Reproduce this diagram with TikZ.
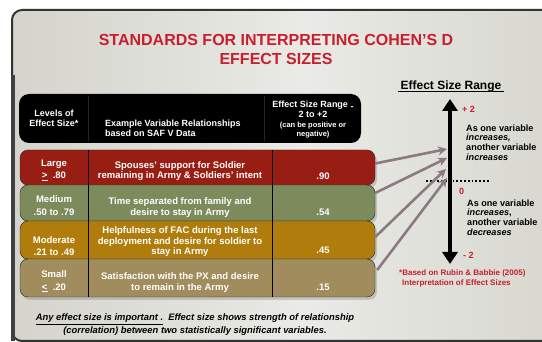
\documentclass[tikz,border=0pt]{standalone}
\usepackage{fontspec}
\setmainfont{Liberation Sans}
\usepackage{tikz}
\usetikzlibrary{arrows.meta,positioning,shadows,calc}
\definecolor{titlered}{RGB}{200,30,45}
\definecolor{largered}{RGB}{152,30,20}
\definecolor{mediumgreen}{RGB}{125,138,92}
\definecolor{moderategold}{RGB}{176,125,12}
\definecolor{smallkhaki}{RGB}{160,140,92}
\definecolor{mauve}{RGB}{140,122,130}
\definecolor{slidegray}{RGB}{212,212,204}
\definecolor{slidelight}{RGB}{234,234,230}
\tikzstyle{rowbox}=[draw=black!85, rounded corners=8pt, minimum width=355pt, inner sep=0pt, drop shadow={opacity=0.35,shadow xshift=2pt,shadow yshift=-3pt}]
\tikzstyle{cell}=[text=white, font=\bfseries\fontsize{9.5}{10.5}\selectfont, align=center, inner sep=0pt]
\tikzstyle{level}=[cell, font=\bfseries\fontsize{9.5}{12.5}\selectfont]
\tikzstyle{head}=[text=white, font=\bfseries\fontsize{9}{9.5}\selectfont, align=center, inner sep=0pt]
\tikzstyle{note}=[font=\bfseries\fontsize{9.1}{9.7}\selectfont, align=left, anchor=west, inner sep=0pt]
\tikzstyle{redmark}=[text=titlered, font=\bfseries\fontsize{9}{10}\selectfont, anchor=west, inner sep=0pt]
\tikzstyle{link}=[draw=mauve, line width=2.6pt, -{Stealth[length=9pt,width=9pt]}]
\begin{document}
\begin{tikzpicture}[x=1pt,y=-1pt]
\useasboundingbox (0,0) rectangle (542,342);
\fill[white] (0,0) rectangle (542,342);
% slide background
\draw[draw=black!80, line width=2pt, rounded corners=10pt, left color=slidegray, right color=slidegray, middle color=slidelight] (12,10) rectangle (600,341);
\fill[black!75] (11,75) rectangle (15,341);
\node[text=titlered, font=\bfseries\fontsize{16}{19.5}\selectfont, align=center] (title) at (276,49.5) {STANDARDS FOR INTERPRETING COHEN'S D\\EFFECT SIZES};

% table header
\node[fill=black, rounded corners=10pt, minimum width=342pt, minimum height=49pt] (hdr) at (190,118.5) {};
\draw[black!85!white, line width=0.6pt] (88,96) -- (88,141) (264,96) -- (264,141);
\node[head] (hlevel) at (54,118.5) {Levels of\\Effect Size*};
\node[head, align=left, anchor=west, font=\bfseries\fontsize{9}{10}\selectfont] (hexample) at (105,128) {Example Variable Relationships\\based on SAF V Data};
\node[head, font=\bfseries\fontsize{9}{10}\selectfont] (hrange) at (313,109) {Effect Size Range \raisebox{-2pt}{-}\\2 to +2};
\node[head, font=\bfseries\fontsize{7.5}{9}\selectfont] (hsign) at (313,130.5) {(can be positive or\\negative)};

% rows
\node[rowbox, fill=largered, minimum height=35pt] (row1) at (197.5,167.5) {};
\node[rowbox, fill=mediumgreen, minimum height=36pt] (row2) at (197.5,203) {};
\node[rowbox, fill=moderategold, minimum height=38pt] (row3) at (197.5,240) {};
\node[rowbox, fill=smallkhaki, minimum height=38pt] (row4) at (197.5,278) {};
\draw[black, line width=0.8pt] (88,150) -- (88,297) (272,150) -- (272,297);

\node[level] (lvl1) at (54,170) {Large\\\underline{>}\ \ .80};
\node[cell] (ex1) at (180,171) {Spouses' support for Soldier\\remaining in Army \& Soldiers' intent};
\node[cell] (val1) at (323,176) {.90};
\node[level] (lvl2) at (54,205.5) {Medium\\.50 to .79};
\node[cell] (ex2) at (180,207.5) {Time separated from family and\\desire to stay in Army};
\node[cell] (val2) at (323,212) {.54};
\node[level] (lvl3) at (54,246) {Moderate\\.21 to .49};
\node[cell] (ex3) at (180,242) {Helpfulness of FAC during the last\\deployment and desire for soldier to\\stay in Army};
\node[cell] (val3) at (323,250) {.45};
\node[level] (lvl4) at (54,281.5) {Small\\\underline{<}\ \ .20};
\node[cell] (ex4) at (180,282.5) {Satisfaction with the PX and desire\\to remain in the Army};
\node[cell] (val4) at (323,287) {.15};

\node[font=\bfseries\itshape\fontsize{9.4}{12.5}\selectfont, align=center] (remark) at (195,324.5) {\underline{Any effect size is important .}\ \ Effect size shows strength of relationship\\(correlation) between two statistically significant variables.};

% effect size range
\node[font=\bfseries\fontsize{12}{14}\selectfont, inner sep=1pt] (esr) at (451,86) {Effect Size Range};
\draw[line width=0.9pt] ($(esr.south west)+(-1,-1)$) -- ($(esr.south east)+(1,-1)$);
\coordinate (axtop) at (450,99);
\coordinate (axbot) at (450,264);
\draw[line width=4pt, {Triangle[width=15pt,length=12pt]}-{Triangle[width=15pt,length=12pt]}] (axtop) -- (axbot);
\draw[dotted, line width=1.8pt] (426,181) -- (490,181);
\node[redmark] (plus) at (462,109) {+ 2};
\node[redmark] (zero) at (459,191) {0};
\node[redmark] (minus) at (463,255) {- 2};
\node[note] (up) at (466,142.5) {As one variable\\\textit{increases,}\\another variable\\\textit{increases}};
\node[note] (down) at (467,217.5) {As one variable\\\textit{increases},\\another variable\\\textit{decreases}};
\node[text=titlered, font=\bfseries\fontsize{8}{10}\selectfont, align=left, anchor=west, inner sep=0pt] (source) at (399,278) {*Based on Rubin \& Babbie (2005)\\\hspace{3pt}Interpretation of Effect Sizes};

% links from rows to the axis
\coordinate (t1) at (447,149);
\coordinate (t2) at (447,158);
\coordinate (t3) at (446,169);
\coordinate (t4) at (447,178);
\draw[link] ([yshift=4pt]row1.east) -- (t1);
\draw[link] ([yshift=10pt]row2.east) -- (t2);
\draw[link] ([yshift=3pt]row3.east) -- (t3);
\draw[link] ([xshift=2pt,yshift=8pt]row4.east) -- (t4);
\end{tikzpicture}
\end{document}
